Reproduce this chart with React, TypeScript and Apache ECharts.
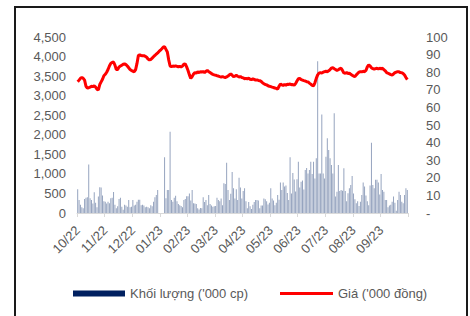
import React, { useEffect, useRef } from "react";
import * as echarts from "echarts";

const months = ["10/22", "11/22", "12/22", "01/23", "02/23", "03/23", "04/23", "05/23", "06/23", "07/23", "08/23", "09/23"];
const pointsPerMonth = 20;

const volName = "Khối lượng ('000 cp)";
const priceName = "Giá ('000 đồng)";

// Volume ('000 shares), 20 sessions per month
const volOct22 = [605, 330, 210, 150, 120, 360, 390, 400, 1240, 380, 330, 240, 530, 260, 150, 420, 660, 650, 450, 300];
const volNov22 = [290, 245, 290, 250, 380, 390, 537, 210, 120, 170, 360, 390, 160, 80, 210, 190, 160, 330, 150, 160];
const volDec22 = [330, 190, 210, 290, 340, 340, 200, 210, 190, 150, 160, 150, 120, 200, 170, 290, 400, 460, 590, 0];
const volJan23 = [0, 0, 0, 1424, 375, 590, 590, 2078, 330, 290, 390, 440, 300, 230, 200, 180, 150, 330, 360, 430];
const volFeb23 = [430, 500, 320, 590, 250, 240, 230, 120, 90, 130, 120, 400, 280, 330, 200, 460, 230, 190, 160, 170];
const volMar23 = [180, 390, 330, 300, 370, 200, 760, 740, 1286, 590, 330, 490, 1050, 630, 370, 610, 330, 900, 650, 370];
const volApr23 = [560, 630, 300, 120, 280, 170, 100, 210, 280, 330, 330, 320, 120, 190, 190, 370, 350, 300, 220, 260];
const volMay23 = [630, 370, 320, 200, 260, 460, 340, 780, 590, 780, 680, 700, 510, 330, 1423, 500, 1022, 858, 550, 860];
const volJun23 = [1311, 650, 800, 830, 600, 1100, 1150, 1010, 1100, 1311, 1000, 1311, 880, 1400, 3880, 1010, 1010, 2520, 1010, 880];
const volJul23 = [1440, 1910, 1610, 1400, 1225, 1010, 2550, 420, 545, 1227, 560, 588, 570, 1142, 560, 300, 503, 630, 716, 945];
const volAug23 = [500, 350, 250, 300, 180, 290, 460, 780, 680, 450, 300, 200, 700, 1797, 715, 630, 850, 850, 780, 470];
const volSep23 = [1000, 590, 545, 330, 330, 150, 190, 210, 290, 420, 260, 60, 330, 545, 460, 290, 250, 460, 630, 590];

// Price ('000 VND)
const prOct22 = [74.6, 75.5, 76.5, 77, 76.5, 75.5, 72, 71, 71.2, 71.5, 72, 71.8, 72.2, 71.5, 70.3, 70, 73, 74.5, 76, 78];
const prNov22 = [78.8, 80, 81.5, 83.5, 85, 85.6, 85.8, 84, 81.5, 81.5, 83, 83.5, 84, 84.5, 84.7, 84.3, 83.5, 82.5, 81.5, 81];
const prDec22 = [80.5, 80.3, 81.5, 85, 89.5, 89.8, 89.5, 89.3, 89.4, 89, 88.5, 87.5, 87, 87.2, 88, 88.8, 89.5, 90.3, 91, 91.8];
const prJan23 = [92.5, 93.3, 94.2, 94.5, 93, 91.5, 87, 83.5, 83.2, 83.5, 83.3, 83.6, 83.3, 83, 83.4, 83, 83.5, 84.5, 84.7, 83];
const prFeb23 = [81, 78.5, 76.5, 77.5, 79, 79.8, 79.5, 80.2, 79.8, 80.3, 80, 80.4, 79.8, 80.5, 81, 80.3, 79.8, 79.2, 78.8, 78.5];
const prMar23 = [78.3, 78, 77.8, 77.5, 77.3, 77.5, 77.2, 77, 77.3, 77.8, 78.5, 79, 78.3, 77.5, 77.8, 78.2, 77.7, 77.3, 77.5, 77];
const prApr23 = [76.8, 76.3, 76.5, 76.2, 76.6, 76, 75.8, 76.2, 75.9, 75.5, 75.6, 75.3, 75.2, 74.8, 74, 73.5, 73, 72.8, 72.3, 72];
const prMay23 = [71.8, 71.5, 71.3, 71, 70.8, 70.4, 72, 73.3, 72.8, 72.5, 73, 72.6, 73.2, 73, 73.4, 72.8, 73, 72.6, 73.5, 75];
const prJun23 = [76.3, 76.5, 75.8, 75.5, 75.2, 75, 74.6, 74.5, 73.8, 73.2, 72.5, 72.3, 74, 76.5, 78.5, 79.5, 79.8, 79.5, 80, 80.3];
const prJul23 = [80.5, 80.3, 80.8, 81.5, 82.3, 82.6, 82, 81.5, 81, 81.4, 82, 82.2, 81, 79.6, 79.4, 79.8, 79.3, 79.5, 78.8, 78.3];
const prAug23 = [77.8, 77.5, 78.5, 79.3, 80, 80.3, 80.2, 80.5, 80.3, 81, 83, 84.1, 83.5, 82.5, 82, 81.7, 82, 82.3, 81.8, 82.2];
const prSep23 = [82, 82.2, 81.5, 80.8, 79.8, 79.4, 79, 78.6, 78.4, 79, 79.7, 80, 80.3, 80.2, 79.8, 79.7, 79.2, 78.4, 77, 75.8];

const volume = [
  ...volOct22, ...volNov22, ...volDec22, ...volJan23, ...volFeb23, ...volMar23,
  ...volApr23, ...volMay23, ...volJun23, ...volJul23, ...volAug23, ...volSep23,
];
const price = [
  ...prOct22, ...prNov22, ...prDec22, ...prJan23, ...prFeb23, ...prMar23,
  ...prApr23, ...prMay23, ...prJun23, ...prJul23, ...prAug23, ...prSep23,
];

const categories = months.flatMap((m) =>
  Array.from({ length: pointsPerMonth }, (_, i) => `${m}#${i}`)
);

const FONT = "'Liberation Sans', Arial, sans-serif";
const TEXT = "#595959";

export default function App() {
  const ref = useRef<HTMLDivElement>(null);

  useEffect(() => {
    if (!ref.current) return;
    const chart = echarts.init(ref.current, undefined, { renderer: "svg" });
    const isMonthStart = (i: number) => i % pointsPerMonth === 0;
    chart.setOption({
      animation: false,
      backgroundColor: "#ffffff",
      textStyle: { fontFamily: FONT },
      graphic: [
        {
          type: "rect",
          shape: { x: 15, y: 7, width: 452, height: 330 },
          style: { fill: "none", stroke: "#1a1a1a", lineWidth: 2 },
          silent: true,
        },
      ],
      grid: { left: 77, right: 62, top: 37, bottom: 103 },
      legend: [
        {
          left: 68,
          top: 282,
          itemWidth: 52,
          itemHeight: 6,
          itemGap: 6,
          textStyle: { color: TEXT, fontSize: 13, fontFamily: FONT },
          data: [{ name: volName, icon: "rect", itemStyle: { color: "#002060" } }],
        },
        {
          left: 275,
          top: 282,
          itemWidth: 53,
          itemHeight: 3,
          textStyle: { color: TEXT, fontSize: 13, fontFamily: FONT },
          data: [{ name: priceName, icon: "rect", itemStyle: { color: "#ff0000" } }],
        },
      ],
      xAxis: {
        type: "category",
        data: categories,
        boundaryGap: true,
        axisLine: { lineStyle: { color: "#d9d9d9", width: 1 } },
        axisTick: {
          show: true,
          interval: (i: number) => isMonthStart(i),
          length: 4,
          lineStyle: { color: "#d9d9d9" },
        },
        axisLabel: {
          interval: (i: number) => isMonthStart(i),
          formatter: (v: string) => v.split("#")[0],
          rotate: 45,
          margin: 15,
          color: TEXT,
          fontSize: 13,
          fontFamily: FONT,
        },
        splitLine: { show: false },
      },
      yAxis: [
        {
          type: "value",
          min: 0,
          max: 4500,
          interval: 500,
          axisLine: { show: false },
          axisTick: { show: false },
          splitLine: { show: false },
          axisLabel: {
            margin: 11,
            color: TEXT,
            fontSize: 13,
            fontFamily: FONT,
            formatter: (v: number) => v.toLocaleString("en-US"),
          },
        },
        {
          type: "value",
          min: 0,
          max: 100,
          interval: 10,
          position: "right",
          axisLine: { show: false },
          axisTick: { show: false },
          splitLine: { show: false },
          axisLabel: {
            margin: 18,
            color: TEXT,
            fontSize: 13,
            fontFamily: FONT,
            formatter: (v: number) => (v === 0 ? "-" : String(v)),
          },
        },
      ],
      series: [
        {
          name: volName,
          type: "bar",
          yAxisIndex: 0,
          data: volume,
          barWidth: 1,
          itemStyle: { color: "#96a4bf" },
          z: 2,
        },
        {
          name: priceName,
          type: "line",
          yAxisIndex: 1,
          data: price,
          symbol: "none",
          lineStyle: { color: "#ff0000", width: 3 },
          itemStyle: { color: "#ff0000" },
          z: 3,
        },
      ],
    });
    return () => chart.dispose();
  }, []);

  return (
    <div
      ref={ref}
      style={{ position: "absolute", left: 0, top: 0, width: 470, height: 316 }}
    />
  );
}
